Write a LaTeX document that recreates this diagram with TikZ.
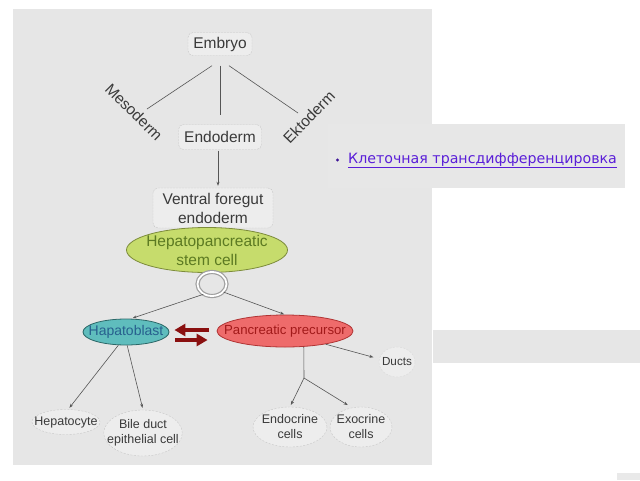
\documentclass[tikz,border=0pt]{standalone}
\usepackage{fontspec}
\setmainfont{Liberation Sans}
\newfontfamily\rufont{DejaVu Sans}
\usetikzlibrary{shapes.geometric,arrows.meta}
\definecolor{panel}{HTML}{E6E6E6}
\definecolor{boxfill}{HTML}{EDEDED}
\definecolor{boxline}{HTML}{C8C8C8}
\definecolor{txt}{HTML}{3A3A3A}
\definecolor{conn}{HTML}{555555}
\definecolor{stemfill}{HTML}{C6DC6C}
\definecolor{stemline}{HTML}{7D8C3C}
\definecolor{stemtxt}{HTML}{5C7A22}
\definecolor{hbfill}{HTML}{5FBDBD}
\definecolor{hbline}{HTML}{2C6868}
\definecolor{hbtxt}{HTML}{27608E}
\definecolor{ppfill}{HTML}{EE6B6B}
\definecolor{ppline}{HTML}{B03434}
\definecolor{pptxt}{HTML}{A21A1A}
\definecolor{darkred}{HTML}{8A1010}
\definecolor{link}{HTML}{5A1ED8}
\tikzset{
  termbox/.style={rectangle, rounded corners=5pt, fill=boxfill, draw=boxline,
    dash pattern=on 2pt off 1pt, text=txt, inner sep=0pt, align=center,
    font=\fontsize{15.5}{19}\selectfont},
  cellov/.style={ellipse, inner xsep=-8pt, inner ysep=-4pt, align=center, draw=boxline,
    dash pattern=on 2pt off 1.5pt, fill=boxfill, text=txt,
    font=\fontsize{12.5}{15}\selectfont},
  germ/.style={text=txt, font=\fontsize{15.5}{19}\selectfont, inner sep=0pt},
  conline/.style={draw=conn, line width=0.6pt},
  conarrow/.style={conline, -{Stealth[length=4pt,width=3pt]}},
  bigarrow/.style={draw=darkred, line width=3.2pt, -{Triangle[length=11pt,width=12pt]}}
}
\begin{document}
\begin{tikzpicture}[x=1pt,y=-1pt]
\useasboundingbox (0,0) rectangle (640,480);
\fill[white] (0,0) rectangle (640,480);
% background panels
\fill[panel] (13,9) rectangle (432,465);
\fill[panel!95!white] (328,124) rectangle (625,188);
\fill[panel] (433,330) rectangle (640,363);
\fill[panel!90!white] (617,473) rectangle (640,480);
% top nodes
\node[termbox, minimum width=64pt, minimum height=23pt] (emb) at (220,44) {Embryo};
\node[termbox, minimum width=83pt, minimum height=25pt] (endo) at (220,137) {Endoderm};
\node[termbox, minimum width=120pt, minimum height=40pt] (vfe) at (213,208) {Ventral foregut\\endoderm};
\node[germ, rotate=-45] (meso) at (134,112) {Mesoderm};
\node[germ, rotate=46] (ekto) at (309,117) {Ektoderm};
\coordinate (mesoEnd) at (147,109);
\coordinate (ektoEnd) at (298,113);
\draw[conline] (emb.south) ++(-8,10) coordinate (s1) -- (mesoEnd);
\draw[conline, shorten <=10pt, shorten >=9pt] (emb.south) -- (endo.north);
\draw[conline] (emb.south) ++(9,10) coordinate (s3) -- (ektoEnd);
\draw[conarrow, shorten <=1pt, shorten >=2pt] ([xshift=-2pt]endo.south) -- ([xshift=-2pt]endo.south |- vfe.north);
% stem cell
\node[ellipse, minimum width=161pt, minimum height=45pt, inner xsep=-8pt, inner ysep=-6pt, align=center,
  fill=stemfill, draw=stemline, line width=0.8pt, text=stemtxt,
  font=\fontsize{15.5}{19}\selectfont] (stem) at (207,250) {Hepatopancreatic\\stem cell};
\node[ellipse, minimum width=29pt, minimum height=24pt, inner sep=0pt, draw=gray!75,
  line width=1.2pt, double=white, double distance=1.8pt, fill=panel] (ring) at (212,284) {};
% hepatoblast / pancreatic precursor
\node[ellipse, minimum width=86pt, minimum height=26pt, inner xsep=-12pt, inner ysep=-2pt,
  fill=hbfill, draw=hbline, line width=0.8pt, text=hbtxt,
  font=\fontsize{14}{16}\selectfont] (hb) at (126,332) {Hapatoblast};
\node[ellipse, minimum width=136pt, minimum height=32pt, inner xsep=-16pt, inner ysep=-2pt,
  fill=ppfill, draw=ppline, line width=0.8pt, text=pptxt,
  font=\fontsize{13.2}{15}\selectfont] (pp) at (285,331) {Pancreatic precursor};
\draw[conarrow, shorten >=2pt] (ring.230) -- (hb.70);
\draw[conarrow, shorten >=1pt] (ring.-35) -- (pp.north);
% exchange arrows
\coordinate (upR) at (209,330);
\coordinate (dnL) at (175,340);
\draw[bigarrow, shorten >=5pt] (upR) -- (hb.east |- upR);
\draw[bigarrow, shorten >=9pt] (dnL) -- (pp.west |- dnL);
% lower cells
\node[cellov, minimum width=68pt, minimum height=25pt] (hc) at (66,422) {Hepatocyte};
\node[cellov, minimum width=77pt, minimum height=46pt] (bd) at (143,433) {Bile duct\\epithelial cell};
\node[cellov, minimum width=74pt, minimum height=40pt] (en) at (290,427) {Endocrine\\cells};
\node[cellov, minimum width=62pt, minimum height=40pt] (ex) at (361,427) {Exocrine\\cells};
\node[cellov, minimum width=36pt, minimum height=30pt, draw=boxline!70,
  font=\fontsize{11.7}{14}\selectfont] (du) at (397,362) {Ducts};
\draw[conarrow, shorten >=2pt] (hb.240) -- (hc.80);
\draw[conarrow, shorten >=2pt] (hb.275) -- (bd.north);
\coordinate (br) at (304,378);
\draw[conline] (pp.-40) -- (br);
\draw[conarrow, shorten >=2pt] (br) -- (en.north);
\draw[conarrow, shorten >=5pt] (br) -- (ex.115);
\draw[conarrow, shorten >=6pt] (pp.-18) -- (du.170);
% Russian link text
\fill[link!70!black] (337.5,160) circle (1.6pt);
\node[anchor=base west, inner sep=0pt, text=link, font=\rufont\fontsize{14.2}{17}\selectfont]
  (ru) at (348,163) {\underline{Клеточная трансдифференцировка}};
\end{tikzpicture}
\end{document}
